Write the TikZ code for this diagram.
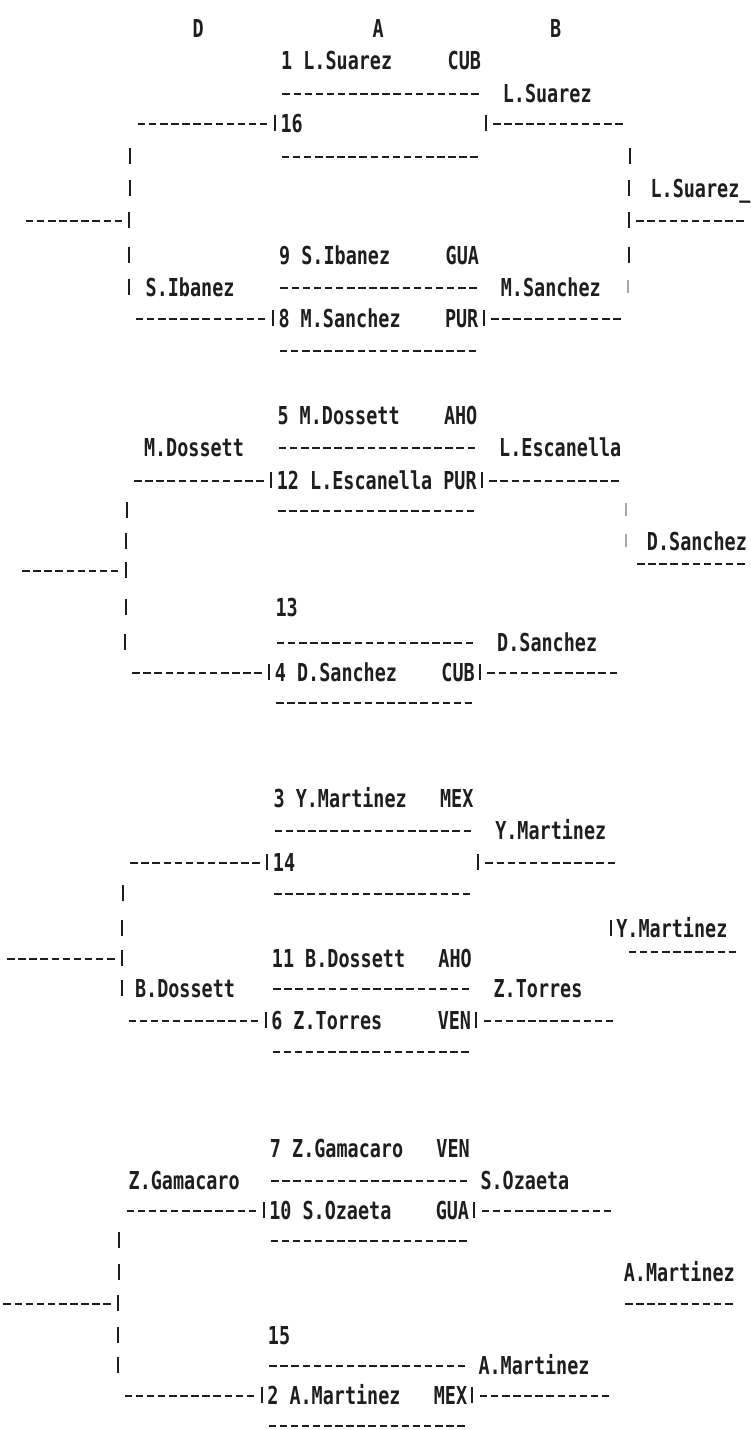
\documentclass[tikz,border=0pt]{standalone}
\usepackage{fontspec}
\newfontfamily\tw[FakeStretch=0.7465]{DejaVu Sans Mono}
\definecolor{ink}{HTML}{1E1E1E}
\newcommand\RY[1]{\ifcase#1 28\or 60\or 93\or 123\or 156\or 188\or 220\or 255\or 287\or 318\or 350\or 383\or 415\or 447\or 480\or 510\or 541\or 570\or 607\or 642\or 672\or 702\or 734\or 766\or 798\or 830\or 862\or 893\or 928\or 958\or 988\or 1020\or 1051\or 1083\or 1115\or 1148\or 1180\or 1210\or 1240\or 1272\or 1303\or 1335\or 1365\or 1395\or 1425\fi}
\newcommand\Tx[4]{\edef\yy{\RY{#2}}\node[lbl] (#1) at ({137-0.33*#2+11.1*(#3)},\yy) {#4};}
\newcommand\Ds[3]{\edef\yy{\RY{#1}}\draw[dl] ({137-0.33*#1+11.1*(#2)+1.8},\yy+1) -- ({137-0.33*#1+11.1*(#2+#3)-1.8},\yy+1);}
\newcommand\Dr[3]{\edef\yy{\RY{#1}}\draw[dl] ({137-0.33*#1+11.1*(#2)+1.8},\yy-6) -- ({137-0.33*#1+11.1*(#2+#3)-1.8},\yy-6);}
\newcommand\Vb[2]{\edef\yy{\RY{#1}}\draw[vb] ({137-0.33*#1+11.1*(#2+0.5)},\yy-8) -- ++(0,16);}
\newcommand\Vf[2]{\edef\yy{\RY{#1}}\draw[vb,black!35] ({137-0.33*#1+11.1*(#2+0.5)},\yy-7) -- ++(0,13);}
\tikzset{
  lbl/.style={font={\fontsize{24.7}{26}\tw\bfseries}, text=ink, inner sep=0pt, anchor=west, text height=18pt, text depth=0pt},
  dl/.style={draw=ink, line width=2.6pt, dash pattern=on 7.5pt off 3.6pt},
  vb/.style={draw=ink, line width=2pt}
}
\begin{document}
\begin{tikzpicture}[x=1pt,y=-1pt]
\fill[white] (0,0) rectangle (750,1430);
\useasboundingbox (0,0) rectangle (750,1430);
% row 0
\Tx{hD}{0}{5}{D} \Tx{hA}{0}{21.2}{A} \Tx{hB}{0}{37.2}{B}
% rows 1-10
\Tx{s1}{1}{13}{1} \Tx{p1}{1}{15}{L.Suarez} \Tx{c1}{1}{28}{CUB}
\Ds{2}{13}{18} \Tx{w2}{2}{33}{L.Suarez}
\Ds{3}{0}{12} \Vb{3}{12} \Tx{s16}{3}{13}{16} \Vb{3}{31} \Ds{3}{32}{12}
\Vb{4}{-1} \Ds{4}{13}{18} \Vb{4}{44}
\Vb{5}{-1} \Vb{5}{44} \Tx{f1}{5}{46.4}{L.Suarez\_}
\Ds{6}{-10}{9} \Vb{6}{-1} \Vb{6}{44} \Ds{6}{45}{10}
\Vb{7}{-1} \Tx{s9}{7}{13}{9} \Tx{p9}{7}{15}{S.Ibanez} \Tx{c9}{7}{28}{GUA} \Vb{7}{44}
\Vb{8}{-1} \Tx{l8}{8}{1}{S.Ibanez} \Ds{8}{13}{18} \Tx{w8}{8}{33}{M.Sanchez} \Vf{8}{44}
\Ds{9}{0}{12} \Vb{9}{12} \Tx{s8}{9}{13}{8} \Tx{p8}{9}{15}{M.Sanchez} \Tx{c8}{9}{28}{PUR} \Vb{9}{31} \Ds{9}{32}{12}
\Ds{10}{13}{18}
% rows 12-21
\Tx{s5}{12}{13}{5} \Tx{p5}{12}{15}{M.Dossett} \Tx{c5}{12}{28}{AHO}
\Tx{l13}{13}{1}{M.Dossett} \Ds{13}{13}{18} \Tx{w13}{13}{33}{L.Escanella}
\Ds{14}{0}{12} \Vb{14}{12} \Tx{s12}{14}{13}{12} \Tx{p12}{14}{16}{L.Escanella} \Tx{c12}{14}{28}{PUR} \Vb{14}{31} \Ds{14}{32}{12}
\Vb{15}{-1} \Ds{15}{13}{18} \Vf{15}{44}
\Vb{16}{-1} \Vf{16}{44} \Tx{f2}{16}{46.4}{D.Sanchez}
\Ds{17}{-10}{9} \Vb{17}{-1} \Dr{17}{45.4}{10}
\Vb{18}{-1} \Tx{s13}{18}{13}{13}
\Vb{19}{-1} \Ds{19}{13}{18} \Tx{w19}{19}{33}{D.Sanchez}
\Ds{20}{0}{12} \Vb{20}{12} \Tx{s4}{20}{13}{4} \Tx{p4}{20}{15}{D.Sanchez} \Tx{c4}{20}{28}{CUB} \Vb{20}{31} \Ds{20}{32}{12}
\Ds{21}{13}{18}
% rows 24-32
\Tx{s3}{24}{13}{3} \Tx{p3}{24}{15}{Y.Martinez} \Tx{c3}{24}{28}{MEX}
\Ds{25}{13}{18} \Tx{w25}{25}{33}{Y.Martinez}
\Ds{26}{0}{12} \Vb{26}{12} \Tx{s14}{26}{13}{14} \Vb{26}{31} \Ds{26}{32}{12}
\Vb{27}{-1} \Ds{27}{13}{18}
\Vb{28}{-1} \Vb{28}{43} \Tx{f3}{28}{44}{Y.Martinez}
\Ds{29}{-11}{10} \Vb{29}{-1} \Tx{s11}{29}{13}{11} \Tx{p11}{29}{16}{B.Dossett} \Tx{c11}{29}{28}{AHO} \Dr{29}{45}{10}
\Vb{30}{-1} \Tx{l30}{30}{0.7}{B.Dossett} \Ds{30}{13}{18} \Tx{w30}{30}{33}{Z.Torres}
\Ds{31}{0}{12} \Vb{31}{12} \Tx{s6}{31}{13}{6} \Tx{p6}{31}{15}{Z.Torres} \Tx{c6}{31}{28}{VEN} \Vb{31}{31} \Ds{31}{32}{12}
\Ds{32}{13}{18}
% rows 35-44
\Tx{s7}{35}{13}{7} \Tx{p7}{35}{15}{Z.Gamacaro} \Tx{c7}{35}{28}{VEN}
\Tx{l36}{36}{0.3}{Z.Gamacaro} \Ds{36}{13}{18} \Tx{w36}{36}{32}{S.Ozaeta}
\Ds{37}{0}{12} \Vb{37}{12} \Tx{s10}{37}{13}{10} \Tx{p10}{37}{16}{S.Ozaeta} \Tx{c10}{37}{28}{GUA} \Vb{37}{31} \Ds{37}{32}{12}
\Vb{38}{-1} \Ds{38}{13}{18}
\Vb{39}{-1} \Tx{f4}{39}{45}{A.Martinez}
\Ds{40}{-11}{10} \Vb{40}{-1} \Ds{40}{45}{10}
\Vb{41}{-1} \Tx{s15}{41}{13}{15}
\Vb{42}{-1} \Ds{42}{13}{18} \Tx{w42}{42}{32}{A.Martinez}
\Ds{43}{0}{12} \Vb{43}{12} \Tx{s2}{43}{13}{2} \Tx{p2}{43}{15}{A.Martinez} \Tx{c2}{43}{28}{MEX} \Vb{43}{31} \Ds{43}{32}{12}
\Ds{44}{13}{18}
\end{tikzpicture}
\end{document}
